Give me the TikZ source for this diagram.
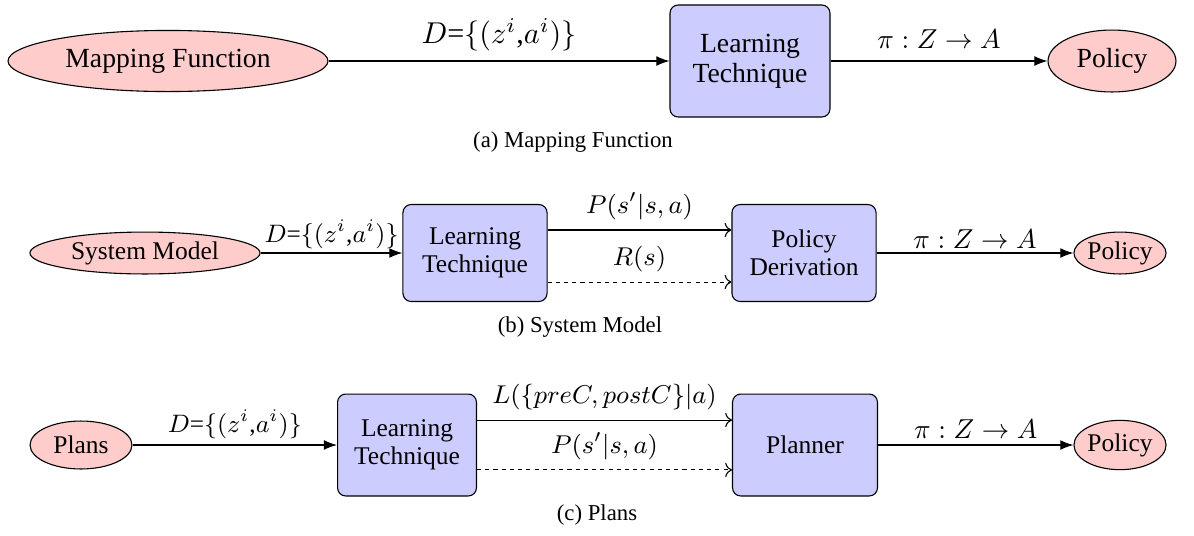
\documentclass[tikz,border=0pt]{standalone}
\usepackage{fix-cm}
\usepackage{fontspec}
\setmainfont{Liberation Serif}
\usetikzlibrary{shapes.geometric,arrows.meta}

\begin{document}
\begin{tikzpicture}[x=0.365pt,y=-0.365pt,>=Latex,
  src/.style={ellipse,draw,fill=red!20,inner sep=0pt},
  tech/.style={rectangle,draw,fill=blue!20,rounded corners=3pt,align=center,inner sep=0pt},
  fa/.style={font=\fontsize{10.1}{11}\selectfont},
  fb/.style={font=\fontsize{9.3}{10.2}\selectfont},
  lbl/.style={midway,above,font=\fontsize{9.4}{11}\selectfont},
  captxt/.style={font=\fontsize{8.3}{10}\selectfont},
  dsh/.style={dash pattern=on 1.5pt off 1.5pt}]
  \useasboundingbox (0,0) rectangle (1194,535);
  % (a)
  \node[src,fa,minimum width=116.8pt,minimum height=22.3pt] (mapf) at (168,61) {Mapping Function};
  \node[tech,fa,minimum width=58.4pt,minimum height=40.9pt] (techa) at (750,61) {Learning\\Technique};
  \node[src,fa,minimum width=46.7pt,minimum height=22.6pt] (pola) at (1112,61) {Policy};
  \draw[->] (mapf) -- (techa) node[midway,above,font=\fontsize{11}{13}\selectfont]{$D$=$\{(z^i$,$a^i)\}$};
  \draw[->] (techa) -- (pola) node[midway,above,inner sep=4.5pt]{$\pi:Z\rightarrow A$};
  \node[captxt] (capa) at (573,142) {(a) Mapping Function};
  % (b)
  \node[src,fb,minimum width=84pt,minimum height=15.3pt] (sysm) at (145,253) {System Model};
  \node[tech,fb,minimum width=52.6pt,minimum height=35.4pt] (techb) at (475,253) {Learning\\Technique};
  \node[tech,fb,minimum width=52.6pt,minimum height=35.4pt] (deriv) at (804,253) {Policy\\Derivation};
  \node[src,fb,minimum width=32.9pt,minimum height=15.3pt] (polb) at (1120,253) {Policy};
  \draw[->] (sysm) -- (techb) node[midway,above,inner sep=1.5pt,font=\fontsize{9.2}{11}\selectfont]{$D$=$\{(z^i$,$a^i)\}$};
  \draw[-{To}] ([yshift=8.4pt]techb.east) -- ([yshift=8.4pt]deriv.west) node[lbl]{$P(s'|s,a)$};
  \draw[-{To},dsh] ([yshift=-10.6pt]techb.east) -- ([yshift=-10.6pt]deriv.west) node[lbl]{$R(s)$};
  \draw[->] (deriv) -- (polb) node[midway,above,inner sep=1.5pt]{$\pi:Z\rightarrow A$};
  \node[captxt] (capb) at (580,327) {(b) System Model};
  % (c)
  \node[src,fb,minimum width=37.2pt,minimum height=17.5pt] (plans) at (81,445) {Plans};
  \node[tech,fb,minimum width=50.7pt,minimum height=37.2pt] (techc) at (407,445) {Learning\\Technique};
  \node[tech,fb,minimum width=52.9pt,minimum height=37.2pt] (planr) at (805,445) {Planner};
  \node[src,fb,minimum width=32.9pt,minimum height=18pt] (polc) at (1120,445) {Policy};
  \draw[->] (plans) -- (techc) node[midway,above,inner sep=2pt,font=\fontsize{9.2}{11}\selectfont]{$D$=$\{(z^i$,$a^i)\}$};
  \draw[-{To}] ([yshift=9.1pt]techc.east) -- ([yshift=9.1pt]planr.west) node[lbl]{$L(\{preC,postC\}|a)$};
  \draw[-{To},dsh] ([yshift=-9.1pt]techc.east) -- ([yshift=-9.1pt]planr.west) node[lbl]{$P(s'|s,a)$};
  \draw[->] (planr) -- (polc) node[midway,above,inner sep=2pt]{$\pi:Z\rightarrow A$};
  \node[captxt] (capc) at (597,515) {(c) Plans};
\end{tikzpicture}
\end{document}
